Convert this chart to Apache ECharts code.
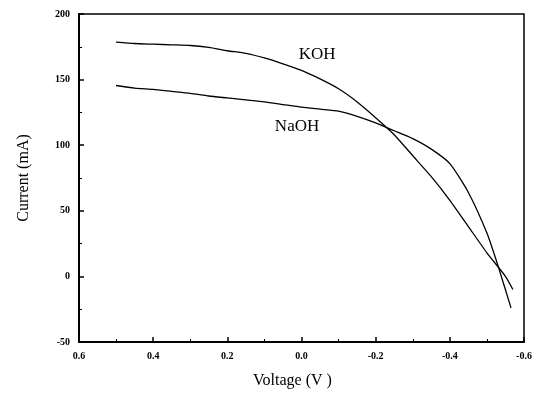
<!DOCTYPE html>
<html>
<head>
<meta charset="utf-8">
<script src="https://cdn.jsdelivr.net/npm/echarts@6/dist/echarts.min.js"></script>
<style>
  html, body { margin: 0; padding: 0; background: #fff; }
  #chart { width: 541px; height: 399px; }
</style>
</head>
<body>
<div id="chart"></div>
<script>
// voltage (V) / current (mA)
const kohVoltage = [0.5, 0.45, 0.4, 0.35, 0.3, 0.25, 0.2, 0.15, 0.1, 0.05, 0.0, -0.05, -0.1, -0.15, -0.2, -0.25, -0.3, -0.35, -0.4, -0.45, -0.5, -0.55, -0.57];
const kohCurrent = [178.5, 177.5, 177, 176.5, 176, 174.5, 172, 170, 166.5, 162, 157, 150.5, 143, 133, 121, 108, 92, 76, 58, 38, 18, 0, -10];

const naohVoltage = [0.5, 0.45, 0.4, 0.35, 0.3, 0.25, 0.2, 0.15, 0.1, 0.05, 0.0, -0.05, -0.1, -0.15, -0.2, -0.25, -0.3, -0.35, -0.4, -0.45, -0.5, -0.53, -0.565];
const naohCurrent = [145.5, 143.5, 142.5, 141, 139.5, 137.5, 136, 134.5, 133, 131, 129, 127.5, 126, 122, 117, 111, 105, 97, 86, 64, 33, 8, -24];

const seriesNames = ["KOH", "NaOH"];
const labelCoords = [[-0.042, 168.8], [0.012, 114.6]];

const zip = (xs, ys) => xs.map((x, i) => [x, ys[i]]);

const chart = echarts.init(document.getElementById("chart"));

const tickFont = {
  color: "#000",
  fontFamily: "Liberation Serif",
  fontWeight: "bold",
  fontSize: 10
};

const makeSeries = (name, data, coord) => ({
  name,
  type: "line",
  data,
  showSymbol: false,
  smooth: 0.2,
  lineStyle: { color: "#000", width: 1.3 },
  animation: false,
  markPoint: {
    symbol: "circle",
    symbolSize: 0,
    data: [{ coord }],
    label: {
      show: true,
      formatter: name,
      color: "#000",
      fontFamily: "Liberation Serif",
      fontSize: 17
    }
  }
});

chart.setOption({
  animation: false,
  grid: {
    left: 79,
    right: 17,
    top: 14,
    bottom: 57,
    show: true,
    borderColor: "#000",
    borderWidth: 1.5
  },
  xAxis: {
    type: "value",
    inverse: true,
    min: -0.6,
    max: 0.6,
    interval: 0.2,
    name: "Voltage (V )",
    nameLocation: "middle",
    nameGap: 31,
    nameTextStyle: {
      color: "#000",
      fontFamily: "Liberation Serif",
      fontSize: 16,
      padding: [0, 18, 0, 0]
    },
    axisLine: { onZero: false, lineStyle: { color: "#000", width: 2 } },
    axisTick: { inside: true, length: 5, lineStyle: { color: "#000", width: 1.5 } },
    minorTick: { show: true, splitNumber: 2, length: 3, lineStyle: { color: "#000" } },
    splitLine: { show: false },
    axisLabel: {
      ...tickFont,
      margin: 9,
      formatter: (v) => v.toFixed(1)
    }
  },
  yAxis: {
    type: "value",
    min: -50,
    max: 200,
    interval: 50,
    name: "Current (mA)",
    nameLocation: "middle",
    nameGap: 47,
    nameTextStyle: {
      color: "#000",
      fontFamily: "Liberation Serif",
      fontSize: 16
    },
    axisLine: { onZero: false, lineStyle: { color: "#000", width: 2 } },
    axisTick: { inside: true, length: 5, lineStyle: { color: "#000", width: 1.5 } },
    minorTick: { show: true, splitNumber: 2, length: 3, lineStyle: { color: "#000" } },
    splitLine: { show: false },
    axisLabel: { ...tickFont, margin: 9 }
  },
  series: [
    makeSeries(seriesNames[0], zip(kohVoltage, kohCurrent), labelCoords[0]),
    makeSeries(seriesNames[1], zip(naohVoltage, naohCurrent), labelCoords[1])
  ]
});
</script>
</body>
</html>
